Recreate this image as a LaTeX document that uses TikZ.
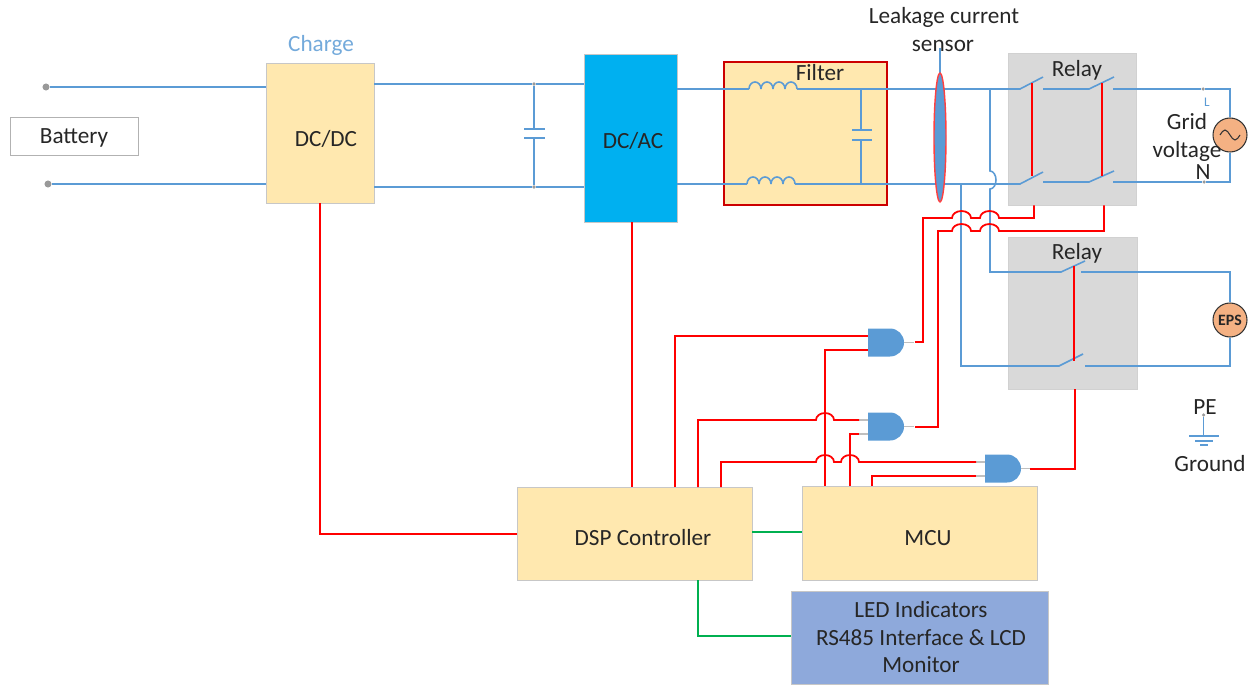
\documentclass[tikz,border=0pt]{standalone}
\usepackage{fontspec}
\setmainfont{Carlito}
\usepackage{xcolor}
\usetikzlibrary{calc}
\usetikzlibrary{shapes.geometric}
\definecolor{wireblue}{HTML}{5B9BD5}
\definecolor{wirered}{HTML}{FF0000}
\definecolor{wiregreen}{HTML}{00B050}
\definecolor{boxyellow}{HTML}{FFE8AF}
\definecolor{boxcyan}{HTML}{00B0F0}
\definecolor{boxgrey}{HTML}{D9D9D9}
\definecolor{boxled}{HTML}{8EA9DB}
\definecolor{srcorange}{HTML}{F4B183}
\tikzset{
  blockbox/.style={draw=black!22,fill=boxyellow,line width=0.5pt,inner sep=0pt,rectangle},
  relaybox/.style={draw=black!18,fill=boxgrey,line width=0.5pt,inner sep=0pt,rectangle},
  bluewire/.style={wireblue,line width=0.9pt},
  redwire/.style={wirered,line width=1pt},
  greenwire/.style={wiregreen,line width=0.9pt},
  stubwire/.style={black!25,line width=0.9pt},
  termdot/.style={circle,fill=black!40,inner sep=0pt,minimum size=4pt},
  srccircle/.style={circle,draw=black!80,fill=srcorange,line width=0.6pt,minimum size=0.68cm,inner sep=0pt},
  txt/.style={font=\fontsize{13.2}{15}\selectfont,text=black!85,inner sep=0pt,text height=10pt,text depth=2pt},
  gatebody/.pic={
    \fill[wireblue] (-18,-14) -- (4,-14) arc[start angle=-90,end angle=90,radius=14] -- (-18,14) -- cycle;
    \coordinate (-ina) at (-18,-6.5);
    \coordinate (-inb) at (-18,7.5);
    \coordinate (-out) at (18,0);
  }
}
\begin{document}
\begin{tikzpicture}[x=0.02cm,y=-0.02cm]
\useasboundingbox (0,0) rectangle (1252,686);

% Boxes
\node[draw=black!30,line width=0.5pt,inner sep=0pt,minimum width=2.56cm,minimum height=0.76cm] (battery) at (74,136) {};
\node[relaybox,minimum width=2.56cm,minimum height=3.04cm] (relayg) at (1072,129) {};
\node[relaybox,minimum width=2.58cm,minimum height=3.04cm] (relaye) at (1072.5,313) {};
\node[blockbox,minimum width=2.16cm,minimum height=2.8cm] (dcdc) at (320,133) {};
\node[blockbox,fill=boxcyan,minimum width=1.86cm,minimum height=3.36cm] (dcac) at (630.5,138) {};
\node[draw=wirered!80!black,fill=boxyellow,line width=0.9pt,inner sep=0pt,minimum width=3.26cm,minimum height=2.86cm] (filter) at (805.5,133.5) {};
\node[blockbox,minimum width=4.7cm,minimum height=1.86cm] (dsp) at (634.5,533.5) {};
\node[blockbox,minimum width=4.7cm,minimum height=1.88cm] (mcu) at (919.5,533) {};
\node[blockbox,fill=boxled,minimum width=5.14cm,minimum height=1.86cm] (led) at (919.5,637.5) {};

% Battery side
\node[termdot] (batp) at (46,87) {};
\node[termdot] (batn) at (48,184) {};
\draw[bluewire] (batp) -- (dcdc.west |- batp);
\draw[bluewire] (batn) -- (dcdc.west |- batn);

% DC link
\node[termdot,minimum size=2pt] (linkp) at (534,84) {};
\node[termdot,minimum size=2pt] (linkn) at (534,187) {};
\draw[bluewire] (dcdc.east |- linkp) -- (linkp) -- (dcac.west |- linkp);
\draw[bluewire] (dcdc.east |- linkn) -- (linkn) -- (dcac.west |- linkn);
\draw[bluewire] (linkp) -- (534,129) (524,129) -- (545,129);
\draw[bluewire] (524,138) -- (545,138) (534,138) -- (linkn);

% AC lines through the filter
\coordinate (acp) at (990,89);
\coordinate (acn) at (961,184);
\draw[bluewire] (dcac.east |- acp) -- (749,89);
\foreach \x in {749,761,773,785} {
    \draw[bluewire] (\x,89) arc[start angle=180,end angle=360,x radius=6,y radius=7];
}
\draw[bluewire] (797,89) -- (acp) -- (1020,89) -- (1043,77);
\draw[bluewire] (dcac.east |- acn) -- (747,184);
\foreach \x in {747,759,771,783} {
    \draw[bluewire] (\x,184) arc[start angle=180,end angle=360,x radius=6,y radius=7];
}
\draw[bluewire] (795,184) -- (acn) -- (1020,184) -- (1043,172);
\draw[bluewire] (861,89) -- (861,130) (852,130) -- (872,130);
\draw[bluewire] (852,140) -- (872,140) (861,140) -- (861,184);

% Leakage sensor
\draw[bluewire] (940,48) -- (940,73);
\node[ellipse,draw=wirered!75,fill=wireblue,line width=0.8pt,inner sep=0pt,minimum width=0.24cm,minimum height=2.58cm] (sensor) at (940,137.5) {};

% Grid relay contacts
\draw[bluewire] (1043,89) -- (1089,89) -- (1114,77);
\draw[bluewire] (1043,182) -- (1089,182) -- (1114,171);
\node[srccircle] (grid) at (1230,135) {};
\node[termdot,minimum size=2pt] (terml) at (1203,89) {};
\node[termdot,minimum size=2pt] (termn) at (1204,182) {};
\draw[bluewire] (1113,89) -- (terml) -- (grid.north |- terml) -- (grid.north);
\draw[bluewire] (1113,182) -- (termn) -- (grid.south |- termn) -- (grid.south);
\draw[black!80,line width=0.6pt] ($(grid.center)+(-10,0)$) sin ($(grid.center)+(-5,-5)$) cos (grid.center) sin ($(grid.center)+(5,5)$) cos ($(grid.center)+(10,0)$);
\draw[redwire] (1032,83) -- (1032,176);
\draw[redwire] (1102,83) -- (1102,176);

% EPS relay contacts
\node[srccircle,fill=srcorange] (eps) at (1230,320) {};
\draw[bluewire] (acp) -- (990,171) arc[start angle=-90,end angle=90,x radius=6,y radius=9] -- (990,272) -- (1061,272) -- (1085,261);
\draw[bluewire] (1081,272) -- (eps.north |- 0,272) -- (eps.north);
\draw[bluewire] (acn) -- (961,366) -- (1059,366) -- (1083,354);
\draw[bluewire] (1085,366) -- (eps.south |- 0,366) -- (eps.south);
\draw[redwire] (1074,266) -- (1074,361);

% Gates
\pic (gatea) at (886,342.5) {gatebody};
\pic (gateb) at (886,426.5) {gatebody};
\pic (gatec) at (1003,468.5) {gatebody};
\foreach \g/\w in {gatea/10,gateb/10,gatec/9} {
    \draw[stubwire] (\g-out) -- ++(\w,0);
}
\draw[stubwire] (gateb-ina) -- ++(-9,0);
\draw[stubwire] (gateb-inb) -- ++(-9,0);
\draw[stubwire] (gatec-ina) -- ++(-9,0);
\draw[stubwire] (gatec-inb) -- ++(-9,0);

% Control signals
\coordinate (dspa) at (675,487);
\coordinate (dspb) at (698,487);
\coordinate (dspc) at (721,487);
\coordinate (mcua) at (825,486);
\coordinate (mcub) at (850,486);
\coordinate (mcuc) at (872,486);
\draw[redwire] (dspa) |- (gatea-ina);
\draw[redwire] (mcua) |- (gatea-inb);
\draw[redwire] (dspb) |- (816,420) arc[start angle=180,end angle=360,x radius=9,y radius=7] -- (859,420);
\draw[redwire] (mcub) |- (859,434);
\draw[redwire] (dspc) |- (816,462) arc[start angle=180,end angle=360,x radius=9,y radius=7] -- (841,462) arc[start angle=180,end angle=360,x radius=9,y radius=7] -- (976,462);
\draw[redwire] (mcuc) |- (976,476);
\draw[redwire] (915,342) -- (923,342) -- (923,218) -- (952,218) arc[start angle=180,end angle=360,x radius=9.5,y radius=7] -- (980,218) arc[start angle=180,end angle=360,x radius=9.5,y radius=7] -- (1034,218) -- (relayg.south -| 1034,0);
\draw[redwire] (915,427) -- (938,427) -- (938,231) -- (952,231) arc[start angle=180,end angle=360,x radius=9.5,y radius=7] -- (980,231) arc[start angle=180,end angle=360,x radius=9.5,y radius=7] -- (1104,231) -- (relayg.south -| 1104,0);
\draw[redwire] (1030,469) -- (1075,469) -- (relaye.south -| 1075,0);
\draw[redwire] (dcdc.south) |- (dsp.west |- 0,534);
\draw[redwire] (dcac.south -| 632,0) -- (632,487);
\draw[greenwire] (dsp.east |- 0,532) -- (mcu.west |- 0,532);
\draw[greenwire] (dsp.south -| 698,0) |- (led.west |- 0,636);

% Ground
\node[termdot,minimum size=2pt] (pe) at (1203.5,415) {};
\draw[bluewire] (pe) -- (1203.5,436);
\draw[bluewire] (1189,436) -- (1219,436) (1195,441) -- (1213,441) (1200,445) -- (1208,445);

% Labels
\node[txt] (batterytxt) at (74,136) {Battery};
\node[txt,text=wireblue!85] (chargetxt) at (321,44) {Charge};
\node[txt] (dcdctxt) at (326,139) {DC/DC};
\node[txt] (dcactxt) at (633,141) {DC/AC};
\node[txt] (filtertxt) at (820,73) {Filter};
\node[txt] (sensortxta) at (944,16) {Leakage current};
\node[txt] (sensortxtb) at (943,44) {sensor};
\node[txt] (relaytxta) at (1077,69) {Relay};
\node[txt] (relaytxtb) at (1077,252) {Relay};
\node[font=\fontsize{7.5}{8}\selectfont,text=wireblue,inner sep=0pt] (ltxt) at (1207,102) {L};
\node[txt] (gridtxta) at (1187,122) {Grid};
\node[txt] (gridtxtb) at (1187,150) {voltage};
\node[txt] (ntxt) at (1203,172) {N};
\node[font=\fontsize{9}{10}\selectfont\bfseries,text=black!85,inner sep=0pt] (epstxt) at (eps) {EPS};
\node[txt] (petxt) at (1205,407) {PE};
\node[txt] (groundtxt) at (1210,464) {Ground};
\node[txt] (dsptxt) at (643,538) {DSP Controller};
\node[txt] (mcutxt) at (928,538) {MCU};
\node[txt] (ledtxta) at (921,610) {LED Indicators};
\node[txt] (ledtxtb) at (921,638) {RS485 Interface \& LCD};
\node[txt] (ledtxtc) at (921,665) {Monitor};
\end{tikzpicture}
\end{document}
